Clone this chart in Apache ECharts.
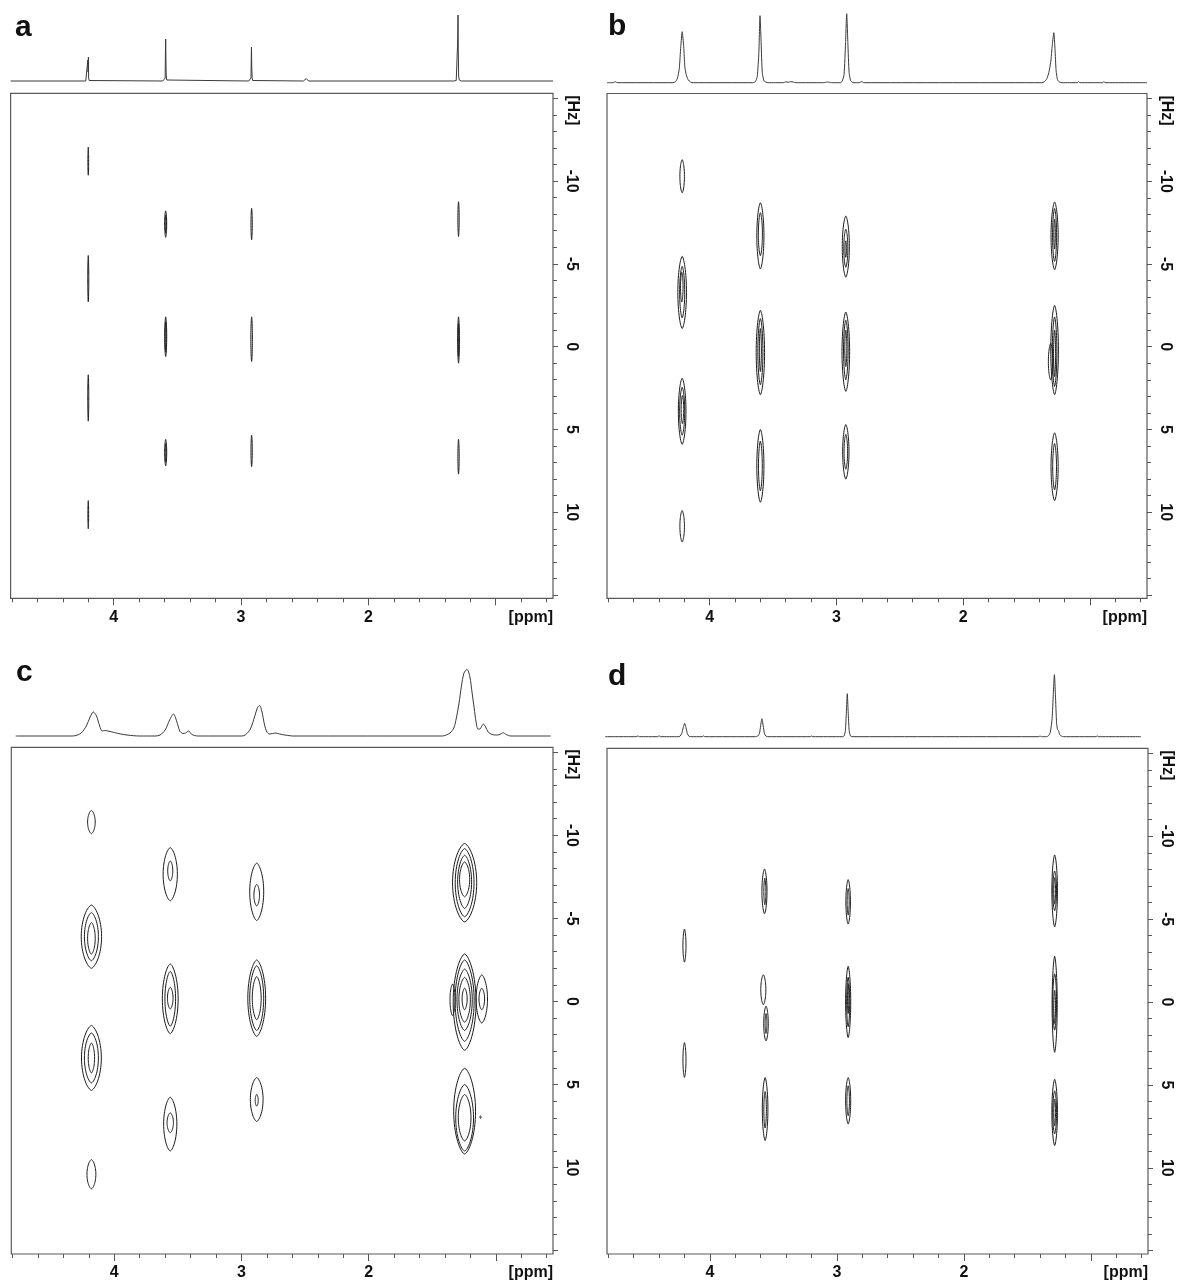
<!DOCTYPE html>
<html>
<head>
<meta charset="utf-8">
<script src="https://cdn.jsdelivr.net/npm/echarts@6/dist/echarts.min.js"></script>
<style>
html, body { margin: 0; padding: 0; background: #fff; }
#chart { width: 1180px; height: 1284px; }
</style>
</head>
<body>
<div id="chart"></div>
<script>
// tick positions / labels
var ppmMajorTicks = [4, 3, 2, 1]
var ppmMinorTicks = [4.8, 4.6, 4.4, 4.2, 4.0, 3.8, 3.6, 3.4, 3.2, 3.0, 2.8, 2.6, 2.4, 2.2, 2.0, 1.8, 1.6, 1.4, 1.2, 1.0, 0.8, 0.6]
var ppmLabels = [4, 3, 2]
var hzMajorTicks = [-15, -10, -5, 0, 5, 10, 15]
var hzMinorTicks = [-15, -14, -13, -12, -11, -10, -9, -8, -7, -6, -5, -4, -3, -2, -1, 0, 1, 2, 3, 4, 5, 6, 7, 8, 9, 10, 11, 12, 13, 14, 15]
var hzLabels = [-10, -5, 0, 5, 10]

// 1D projections: [ppm, intensity]
var projA = [[4.81,0],[4.22,0],[4.21,0.5],[4.205,2],[4.203,21],[4.201,9],[4.199,24],[4.197,3],[4.193,0.5],[4.18,0],
  [3.615,0],[3.600,0.5],[3.596,3],[3.594,29],[3.592,42],[3.590,20],[3.588,6],[3.584,1],[3.57,0],
  [2.94,0],[2.926,0.5],[2.922,3],[2.920,22],[2.918,34],[2.916,14],[2.913,3],[2.908,0.5],[2.895,0],
  [2.51,0],[2.495,0.5],[2.488,2.5],[2.482,0.5],[2.47,0],
  [1.33,0],[1.31,0.5],[1.302,2],[1.299,38],[1.296,66],[1.294,30],[1.291,5],[1.286,1],[1.27,0],[0.55,0]]
var projB = [[4.81,0],[4.76,0],[4.745,1],[4.73,0],
  [4.29,0],[4.27,1],[4.255,4],[4.24,14],[4.228,36],[4.217,51],[4.205,36],[4.196,16],[4.185,8],[4.17,3],[4.15,0.5],[4.13,0],
  [3.66,0],[3.64,1],[3.625,6],[3.612,30],[3.603,67],[3.594,40],[3.585,10],[3.572,2],[3.555,0.5],[3.54,0],
  [3.42,0],[3.40,0.8],[3.38,0.5],[3.36,1],[3.34,0.6],[3.32,0],
  [3.10,0],[3.07,0.7],[3.04,0],
  [2.97,0],[2.955,1.5],[2.94,8],[2.928,40],[2.919,69],[2.910,40],[2.900,10],[2.888,2],[2.875,0.5],[2.862,0],
  [2.82,0],[2.80,1.2],[2.785,0],
  [1.38,0],[1.36,1],[1.34,4],[1.325,10],[1.31,20],[1.297,38],[1.285,50],[1.276,34],[1.267,12],[1.256,3],[1.24,0.5],[1.22,0],
  [1.10,0],[1.09,1],[1.08,0],[0.90,0],[0.89,1],[0.88,0],[0.55,0]]
var projC = [[4.775,0],[4.34,0],[4.30,0.5],[4.26,3],[4.22,10],[4.19,19],[4.165,24],[4.14,20],[4.115,10],[4.095,5],[4.075,5.5],[4.05,5],[4.0,3.5],[3.95,2],[3.9,1],[3.85,0.3],[3.8,0],
  [3.68,0],[3.64,1],[3.60,6],[3.565,16],[3.535,22],[3.51,15],[3.485,5],[3.46,2.5],[3.44,3],[3.415,5],[3.395,2],[3.37,0.5],[3.34,0],
  [3.0,0],[2.97,1],[2.93,7],[2.895,20],[2.875,28],[2.858,30.5],[2.84,25],[2.82,12],[2.80,4],[2.78,2],[2.755,2.5],[2.73,3],[2.70,2],[2.66,1],[2.62,0.3],[2.6,0],
  [1.42,0],[1.39,1],[1.36,3],[1.33,8],[1.31,18],[1.29,32],[1.27,50],[1.25,63],[1.226,66.5],[1.205,60],[1.185,42],[1.17,28],[1.155,14],[1.14,7],
  [1.125,7],[1.11,10],[1.098,12],[1.08,9],[1.06,4],[1.03,1.5],[1.0,1],[0.975,1.2],[0.955,2.5],[0.94,3.3],[0.925,2],[0.9,0.5],[0.88,0],[0.567,0]]
var projD = [[4.825,0],[4.58,0],[4.567,0.8],[4.555,0],[4.41,0],[4.40,1],[4.39,0],
  [4.25,0],[4.235,0.5],[4.222,3],[4.21,9],[4.199,13.3],[4.188,9],[4.177,3],[4.165,0.5],[4.15,0],
  [4.06,0],[4.05,0.8],[4.04,0],
  [3.64,0],[3.625,0.5],[3.61,3],[3.60,11],[3.59,18],[3.58,11],[3.57,3],[3.558,0.5],[3.545,0],
  [3.21,0],[3.20,0.7],[3.19,0],
  [2.955,0],[2.943,0.8],[2.933,6],[2.925,25],[2.918,43],[2.911,25],[2.903,6],[2.893,0.8],[2.88,0],
  [1.41,0],[1.40,0.7],[1.39,0],
  [1.35,0],[1.335,0.8],[1.32,4],[1.305,18],[1.296,42],[1.287,62],[1.279,42],[1.27,14],[1.262,7],[1.254,6],[1.245,2],[1.23,0.5],[1.215,0],
  [0.96,0],[0.95,0.8],[0.94,0],[0.605,0]]

// 2D contours: [ppm, Hz, half width (ppm), half height (Hz)]
var contA = [[4.200,-11.2,0.003,0.85],[4.200,-4.1,0.004,1.4],[4.200,3.1,0.004,1.4],[4.200,10.15,0.003,0.85],
  [3.592,-7.4,0.008,0.8],[3.592,-7.4,0.004,0.55],[3.592,-0.6,0.008,1.2],[3.592,-0.6,0.004,0.9],[3.592,6.4,0.008,0.8],[3.592,6.4,0.004,0.55],
  [2.917,-7.4,0.005,0.95],[2.917,-0.45,0.006,1.35],[2.917,6.3,0.005,0.95],
  [1.292,-7.7,0.005,1.05],[1.292,-0.4,0.007,1.4],[1.292,-0.4,0.003,1.0],[1.292,6.65,0.005,1.05]]
var contB = [[4.217,-10.3,0.018,1.0],
  [4.217,-3.28,0.034,2.18],[4.217,-3.3,0.02,1.56],[4.22,-3.6,0.01,0.9],
  [4.217,3.9,0.03,2.0],[4.217,3.9,0.02,1.45],[4.215,3.8,0.01,0.85],
  [4.217,10.85,0.018,0.95],
  [3.60,-6.7,0.028,2.0],[3.60,-6.8,0.016,1.3],
  [3.60,0.35,0.033,2.55],[3.60,0.3,0.02,2.0],[3.60,0.2,0.008,1.3],
  [3.60,7.2,0.028,2.2],[3.60,7.2,0.015,1.5],
  [2.926,-6.05,0.028,1.85],[2.926,-5.95,0.016,1.15],[2.926,-5.9,0.006,0.5],
  [2.926,0.3,0.03,2.4],[2.926,0.2,0.018,1.8],[2.926,0.1,0.008,1.1],
  [2.926,6.35,0.025,1.65],[2.926,6.35,0.014,1.05],
  [1.279,-6.7,0.028,2.05],[1.279,-6.75,0.016,1.6],[1.279,-6.8,0.006,0.9],
  [1.279,0.2,0.03,2.7],[1.279,0.3,0.018,2.1],[1.279,0.4,0.008,1.4],[1.31,0.9,0.018,1.1],
  [1.279,7.25,0.028,2.05],[1.279,7.25,0.015,1.4]]
var contC = [[4.18,-10.8,0.03,0.7],
  [4.18,-3.9,0.08,1.9],[4.18,-3.9,0.055,1.45],[4.18,-3.8,0.03,0.95],
  [4.18,3.4,0.078,1.95],[4.18,3.4,0.055,1.5],[4.18,3.4,0.025,0.9],
  [4.18,10.4,0.035,0.88],
  [3.56,-7.66,0.056,1.6],[3.56,-7.86,0.02,0.6],
  [3.56,-0.16,0.062,2.1],[3.56,-0.16,0.042,1.65],[3.56,-0.2,0.022,0.65],
  [3.56,7.38,0.052,1.62],[3.56,7.3,0.025,0.6],
  [2.88,-6.6,0.055,1.73],[2.88,-6.4,0.022,0.65],
  [2.88,-0.2,0.07,2.3],[2.88,-0.2,0.055,1.95],[2.88,-0.2,0.035,1.3],
  [2.88,5.9,0.05,1.32],[2.88,5.95,0.012,0.35],
  [1.245,-7.15,0.095,2.36],[1.245,-7.15,0.074,2.05],[1.245,-7.2,0.055,1.6],[1.245,-7.35,0.04,1.05],
  [1.245,0.04,0.09,2.9],[1.245,-0.05,0.075,2.45],[1.245,-0.1,0.06,1.85],[1.245,-0.1,0.045,1.35],[1.245,-0.15,0.02,0.65],
  [1.34,-0.1,0.02,0.95],
  [1.11,-0.15,0.045,1.45],[1.11,-0.15,0.022,0.65],
  [1.245,6.6,0.086,2.58],[1.245,7.0,0.07,2.0],[1.245,7.0,0.05,1.4],
  [1.12,6.96,0.004,0.08]]
var contD = [[4.20,-3.4,0.012,1.0],[4.20,3.5,0.012,1.05],
  [3.57,-6.67,0.02,1.35],[3.567,-6.67,0.008,0.8],
  [3.579,-0.74,0.02,0.9],[3.558,1.3,0.018,1.05],[3.558,1.3,0.007,0.6],
  [3.565,6.46,0.022,1.9],[3.565,6.5,0.01,1.1],
  [2.911,-6.04,0.018,1.34],[2.911,-6.04,0.008,0.8],
  [2.911,0,0.02,2.15],[2.911,0,0.012,1.5],[2.911,-0.2,0.005,0.9],
  [2.911,5.96,0.02,1.4],[2.911,5.96,0.01,0.9],
  [1.285,-6.7,0.022,2.17],[1.285,-6.7,0.015,1.2],[1.285,-6.7,0.007,0.8],
  [1.285,0.14,0.02,2.9],[1.285,0.0,0.015,1.7],[1.285,0.3,0.007,1.0],
  [1.285,6.66,0.022,2.0],[1.285,6.66,0.015,1.3],[1.285,6.66,0.007,0.8]]

var PPM_MIN = 0.55, PPM_MAX = 4.81
var HZ_MIN = -15.3, HZ_MAX = 15.2
var PROJ_H = 72
var FONT = "'Liberation Sans', Arial, sans-serif"

// layout: box [left, top, right, bottom], projection baseline, projection ppm range
var panels = [
  {letter: 'a', box: [10.6, 93.3, 553, 598.3], base: 81, projRange: [PPM_MAX, PPM_MIN], proj: projA, cont: contA, smooth: false, letterPos: [15, 30]},
  {letter: 'b', box: [607, 93.5, 1147, 598.3], base: 82.7, projRange: [PPM_MAX, PPM_MIN], proj: projB, cont: contB, smooth: 0.2, letterPos: [608, 29]},
  {letter: 'c', box: [11.3, 747.3, 553, 1254], base: 736, projRange: [4.775, 0.567], proj: projC, cont: contC, smooth: 0.3, letterPos: [16, 675]},
  {letter: 'd', box: [607, 748.3, 1148, 1254], base: 736.7, projRange: [4.825, 0.605], proj: projD, cont: contD, smooth: 0.2, letterPos: [608, 679]}
]

function drawContour(params, api) {
  var ppm = api.value(0), hz = api.value(1)
  var c = api.coord([ppm, hz])
  var ex = api.coord([ppm + api.value(2), hz])
  var ey = api.coord([ppm, hz + api.value(3)])
  var rx = Math.max(Math.abs(ex[0] - c[0]), 0.3)
  var ry = Math.abs(ey[1] - c[1])
  var pts = []
  for (var k = 0; k < 64; k++) {
    var t = k / 64 * 2 * Math.PI
    var cs = Math.cos(t)
    pts.push([c[0] + rx * (cs < 0 ? -1 : 1) * Math.pow(Math.abs(cs), 1.3), c[1] + ry * Math.sin(t)])
  }
  return {
    type: 'polygon',
    shape: {points: pts},
    style: {fill: 'none', stroke: '#1a1a1a', lineWidth: 1}
  }
}

var grids = [], xAxes = [], yAxes = [], series = [], graphics = []

panels.forEach(function(p, i){
  var L = p.box[0], T = p.box[1], R = p.box[2], B = p.box[3]
  var pxPerPpm = (R - L) / (PPM_MAX - PPM_MIN)
  var pl = L + (PPM_MAX - p.projRange[0]) * pxPerPpm
  var pr = L + (PPM_MAX - p.projRange[1]) * pxPerPpm

  grids.push({left: L, top: T, width: R - L, height: B - T, show: true,
    borderColor: '#5a5a5a', borderWidth: 1.2, backgroundColor: '#fff'})
  // projection grid reaches 2px below the baseline so the line isn't clipped
  grids.push({left: pl, top: p.base - PROJ_H, width: pr - pl, height: PROJ_H + 2, show: false})
  var gb = 2 * i, gp = 2 * i + 1

  // box x axes: major (labels) and minor ticks
  xAxes.push({type: 'value', gridIndex: gb, min: PPM_MIN, max: PPM_MAX, inverse: true, position: 'bottom',
    axisLine: {show: false, onZero: false}, splitLine: {show: false},
    axisTick: {show: true, customValues: ppmMajorTicks, length: 7, lineStyle: {color: '#555', width: 1}},
    axisLabel: {show: true, customValues: ppmLabels, margin: 11, fontSize: 16, fontWeight: 'bold', color: '#111', fontFamily: FONT}})
  xAxes.push({type: 'value', gridIndex: gb, min: PPM_MIN, max: PPM_MAX, inverse: true, position: 'bottom',
    axisLine: {show: false, onZero: false}, splitLine: {show: false},
    axisTick: {show: true, customValues: ppmMinorTicks, length: 4, lineStyle: {color: '#555', width: 1}},
    axisLabel: {show: false}})
  xAxes.push({type: 'value', gridIndex: gp, min: p.projRange[1], max: p.projRange[0], inverse: true, show: false})

  yAxes.push({type: 'value', gridIndex: gb, min: HZ_MIN, max: HZ_MAX, inverse: true, position: 'right',
    axisLine: {show: false, onZero: false}, splitLine: {show: false},
    axisTick: {show: true, customValues: hzMajorTicks, length: 5, lineStyle: {color: '#555', width: 1}},
    axisLabel: {show: true, customValues: hzLabels, rotate: -90, margin: 10, fontSize: 16, fontWeight: 'bold', color: '#111', fontFamily: FONT}})
  yAxes.push({type: 'value', gridIndex: gb, min: HZ_MIN, max: HZ_MAX, inverse: true, position: 'right',
    axisLine: {show: false, onZero: false}, splitLine: {show: false},
    axisTick: {show: true, customValues: hzMinorTicks, length: 4, lineStyle: {color: '#555', width: 1}},
    axisLabel: {show: false}})
  yAxes.push({type: 'value', gridIndex: gp, min: -2, max: PROJ_H, show: false})

  series.push({type: 'custom', name: 'contour ' + p.letter, xAxisIndex: 3 * i, yAxisIndex: 3 * i,
    renderItem: drawContour, encode: {x: 0, y: 1}, data: p.cont, clip: true, silent: true})
  series.push({type: 'line', name: 'projection ' + p.letter, xAxisIndex: 3 * i + 2, yAxisIndex: 3 * i + 2,
    data: p.proj, showSymbol: false, smooth: p.smooth, lineStyle: {color: '#3a3a3a', width: 1}, silent: true})

  graphics.push({type: 'text', left: p.letterPos[0], top: p.letterPos[1] - 17,
    style: {text: p.letter, fontSize: 30, fontWeight: 'bold', fill: '#111', fontFamily: FONT}})
  graphics.push({type: 'text', x: R, y: B + 19, style: {text: '[ppm]', fontSize: 16, fontWeight: 'bold',
    fill: '#111', fontFamily: FONT, align: 'right', verticalAlign: 'middle'}})
  graphics.push({type: 'text', x: R + 19, y: T + 17, rotation: -Math.PI / 2, style: {text: '[Hz]', fontSize: 16,
    fontWeight: 'bold', fill: '#111', fontFamily: FONT, align: 'center', verticalAlign: 'middle'}})
})

var chart = echarts.init(document.getElementById('chart'))
var option = {
  animation: false,
  backgroundColor: '#fff',
  grid: grids,
  xAxis: xAxes,
  yAxis: yAxes,
  series: series,
  graphic: graphics
}
chart.setOption(option)
</script>
</body>
</html>
